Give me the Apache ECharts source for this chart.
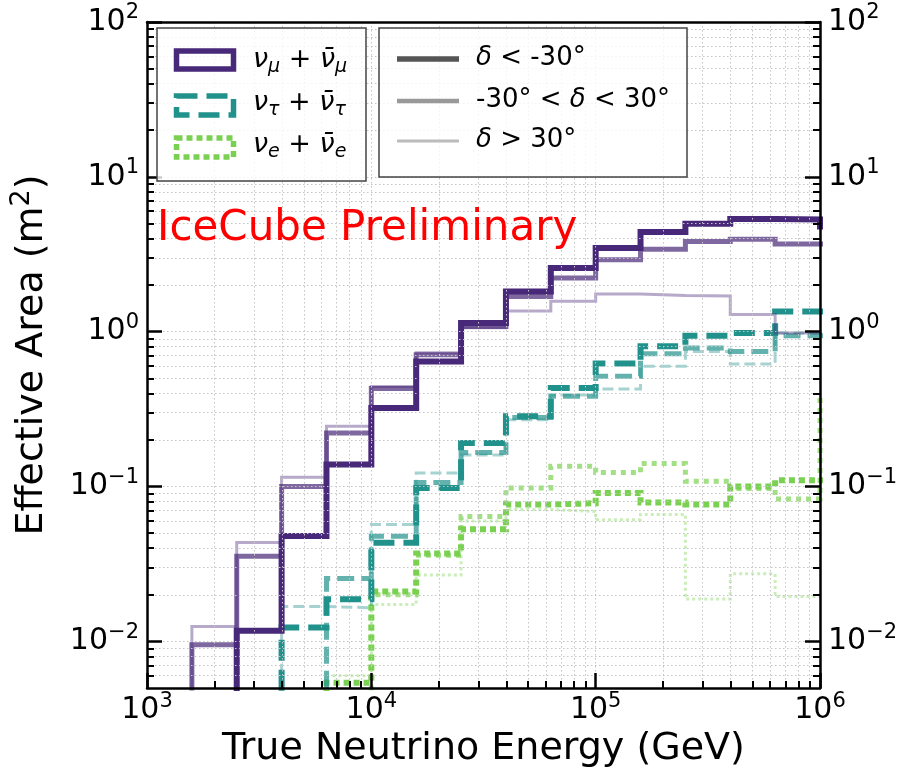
<!DOCTYPE html>
<html>
<head>
<meta charset="utf-8">
<title>Effective Area</title>
<script src="https://cdn.jsdelivr.net/npm/echarts@6/dist/echarts.min.js"></script>
<style>
  html, body { margin: 0; padding: 0; background: #ffffff; }
  #chart { width: 904px; height: 779px; }
</style>
</head>
<body>
<div id="chart"></div>
<script>
// Bin edges in true neutrino energy (GeV), five bins per decade
const energyEdges = [1000, 1585, 2512, 3981, 6310, 10000, 15849, 25119, 39811, 63096,
                     100000, 158489, 251189, 398107, 630957, 1000000, 1584893];

// Effective area (m^2) per energy bin; values under 0.005 sit below the plotted range
const numuSouth   = [0.001, 0.001, 0.0117, 0.048, 0.139, 0.322, 0.643, 1.14, 1.82, 2.58, 3.47, 4.40, 4.97, 5.35, 5.30, 4.78];
const numuHorizon = [0.001, 0.0095, 0.0355, 0.100, 0.222, 0.430, 0.710, 1.08, 1.69, 2.22, 2.91, 3.41, 3.83, 3.96, 3.68, 3.68];
const numuNorth   = [0.001, 0.0125, 0.0435, 0.115, 0.245, 0.443, 0.730, 1.06, 1.36, 1.57, 1.75, 1.71, 1.70, 1.29, 0.98, 0.98];

const nutauSouth   = [0.001, 0.001, 0.001, 0.0123, 0.0187, 0.0434, 0.098, 0.191, 0.284, 0.433, 0.622, 0.804, 0.943, 0.980, 1.35, 1.35];
const nutauHorizon = [0.001, 0.001, 0.001, 0.001, 0.0255, 0.0478, 0.106, 0.166, 0.279, 0.383, 0.515, 0.721, 0.785, 0.746, 0.943, 0.943];
const nutauNorth   = [0.001, 0.001, 0.001, 0.0168, 0.0165, 0.0569, 0.1225, 0.160, 0.270, 0.390, 0.427, 0.598, 0.746, 0.619, 0.980, 0.980];

const nueSouth   = [0.001, 0.001, 0.001, 0.001, 0.0054, 0.021, 0.037, 0.053, 0.0766, 0.078, 0.091, 0.079, 0.0766, 0.100, 0.110, 0.110];
const nueHorizon = [0.001, 0.001, 0.001, 0.001, 0.001, 0.020, 0.036, 0.064, 0.098, 0.135, 0.123, 0.141, 0.108, 0.097, 0.083, 0.380];
const nueNorth   = [0.001, 0.001, 0.001, 0.001, 0.006, 0.0173, 0.0268, 0.060, 0.071, 0.069, 0.061, 0.066, 0.0188, 0.0273, 0.0195, 0.0195];

// Tick positions
const xMajorTicks = [1e3, 1e4, 1e5, 1e6];
const xMinorTicks = [2e3, 3e3, 4e3, 5e3, 6e3, 7e3, 8e3, 9e3,
                     2e4, 3e4, 4e4, 5e4, 6e4, 7e4, 8e4, 9e4,
                     2e5, 3e5, 4e5, 5e5, 6e5, 7e5, 8e5, 9e5];
const yMajorTicks = [0.01, 0.1, 1, 10, 100];
const yMinorTicks = [0.006, 0.007, 0.008, 0.009,
                     0.02, 0.03, 0.04, 0.05, 0.06, 0.07, 0.08, 0.09,
                     0.2, 0.3, 0.4, 0.5, 0.6, 0.7, 0.8, 0.9,
                     2, 3, 4, 5, 6, 7, 8, 9,
                     20, 30, 40, 50, 60, 70, 80, 90];

const FONT = 'DejaVu Sans';
const PURPLE = [72, 40, 120];
const TEAL = [33, 145, 140];
const GREEN = [122, 209, 81];

// Line widths for the three declination bands
const W_SOUTH = 6, W_HORIZON = 5, W_NORTH = 3;

function rgba(c, a) { return 'rgba(' + c[0] + ',' + c[1] + ',' + c[2] + ',' + a + ')'; }

function powLabel(v) {
  const e = Math.round(Math.log10(v));
  return '{b|10}{s|' + (e < 0 ? '\u2212' + (-e) : e) + '}';
}
const powRich = {
  b: { fontSize: 30, fontFamily: FONT, color: '#000', verticalAlign: 'middle' },
  s: { fontSize: 21, fontFamily: FONT, color: '#000', verticalAlign: 'middle', padding: [0, 0, 18, 0] }
};

const gridLine = { color: '#c4c4c4', width: 1, type: [1.5, 2.5] };

function stepData(vals) {
  return energyEdges.map(function (e, i) { return [e, vals[Math.min(i, vals.length - 1)]]; });
}

function histSeries(name, vals, color, alpha, width, dash) {
  return {
    name: name,
    type: 'line',
    step: 'end',
    data: stepData(vals),
    xAxisIndex: 0,
    yAxisIndex: 0,
    symbol: 'none',
    showSymbol: false,
    clip: true,
    silent: true,
    lineStyle: { color: rgba(color, alpha), width: width, type: dash, cap: 'butt', join: 'miter' },
    z: 2
  };
}

const series = [
  histSeries('nue north', nueNorth, GREEN, 0.4, W_NORTH, [3, 3]),
  histSeries('nue horizon', nueHorizon, GREEN, 0.7, W_HORIZON, [5, 5]),
  histSeries('nue south', nueSouth, GREEN, 1, W_SOUTH, [6, 4]),
  histSeries('nutau north', nutauNorth, TEAL, 0.4, W_NORTH, [11, 5]),
  histSeries('nutau horizon', nutauHorizon, TEAL, 0.7, W_HORIZON, [17, 7]),
  histSeries('nutau south', nutauSouth, TEAL, 1, W_SOUTH, [21, 9]),
  histSeries('numu north', numuNorth, PURPLE, 0.4, W_NORTH, 'solid'),
  histSeries('numu horizon', numuHorizon, PURPLE, 0.7, W_HORIZON, 'solid'),
  histSeries('numu south', numuSouth, PURPLE, 1, W_SOUTH, 'solid')
];

const frameLine = { show: true, onZero: false, lineStyle: { color: '#000', width: 2.5 } };

const xAxes = [
  {
    type: 'log', min: 1e3, max: 1e6, position: 'bottom', z: 3,
    axisLine: frameLine,
    axisTick: { show: true, inside: true, length: 15, customValues: xMajorTicks, lineStyle: { color: '#000', width: 2.5 } },
    axisLabel: { show: true, customValues: xMajorTicks, formatter: powLabel, rich: powRich, margin: 3 },
    splitLine: { show: true, lineStyle: gridLine },
    name: 'True Neutrino Energy (GeV)', nameLocation: 'middle', nameGap: 35,
    nameTextStyle: { fontSize: 38, fontFamily: FONT, color: '#000' }
  },
  {
    type: 'log', min: 1e3, max: 1e6, position: 'bottom', z: 3,
    axisLine: { show: false },
    axisTick: { show: true, inside: true, length: 7, customValues: xMinorTicks, lineStyle: { color: '#000', width: 2 } },
    axisLabel: { show: false },
    splitLine: { show: true, lineStyle: gridLine }
  },
  {
    type: 'log', min: 1e3, max: 1e6, position: 'top', z: 3,
    axisLine: frameLine,
    axisTick: { show: false }, axisLabel: { show: false }, splitLine: { show: false }
  }
];

const yAxes = [
  {
    type: 'log', min: 0.005, max: 100, position: 'left', z: 3,
    axisLine: frameLine,
    axisTick: { show: true, inside: true, length: 15, customValues: yMajorTicks, lineStyle: { color: '#000', width: 2.5 } },
    axisLabel: { show: true, customValues: yMajorTicks, formatter: powLabel, rich: powRich, margin: 8 },
    splitLine: { show: true, lineStyle: gridLine },
    name: 'Effective Area (m{s|2})', nameLocation: 'middle', nameGap: 90,
    nameTextStyle: {
      fontSize: 38, fontFamily: FONT, color: '#000',
      rich: { s: { fontSize: 27, fontFamily: FONT, color: '#000', verticalAlign: 'middle', padding: [0, 0, 22, 0] } }
    }
  },
  {
    type: 'log', min: 0.005, max: 100, position: 'left', z: 3,
    axisLine: { show: false },
    axisTick: { show: true, inside: true, length: 7, customValues: yMinorTicks, lineStyle: { color: '#000', width: 2 } },
    axisLabel: { show: false },
    splitLine: { show: true, lineStyle: gridLine }
  },
  {
    type: 'log', min: 0.005, max: 100, position: 'right', z: 3,
    axisLine: frameLine,
    axisTick: { show: true, inside: true, length: 15, customValues: yMajorTicks, lineStyle: { color: '#000', width: 2.5 } },
    axisLabel: { show: true, customValues: yMajorTicks, formatter: powLabel, rich: powRich, margin: 8 },
    splitLine: { show: false }
  },
  {
    type: 'log', min: 0.005, max: 100, position: 'right', z: 3,
    axisLine: { show: false },
    axisTick: { show: true, inside: true, length: 7, customValues: yMinorTicks, lineStyle: { color: '#000', width: 2 } },
    axisLabel: { show: false },
    splitLine: { show: false }
  }
];

// Legend boxes, patches and labels
function flavourLabel(sub) {
  return '{i|\u03bd}{u|' + sub + '}{n| + }{i|\u03bd\u0304}{u|' + sub + '}';
}
const flavourRich = {
  i: { fontSize: 27, fontFamily: FONT, fontStyle: 'italic', verticalAlign: 'middle' },
  n: { fontSize: 27, fontFamily: FONT, verticalAlign: 'middle' },
  u: { fontSize: 19, fontFamily: FONT, fontStyle: 'italic', verticalAlign: 'middle', padding: [14, 0, 0, 0] }
};
const bandRich = {
  i: { fontSize: 26, fontFamily: FONT, fontStyle: 'italic', verticalAlign: 'middle' },
  n: { fontSize: 26, fontFamily: FONT, verticalAlign: 'middle' }
};

function legendText(x, y, text, rich) {
  return { type: 'text', z: 101, style: { x: x, y: y, text: text, rich: rich, verticalAlign: 'middle', fill: '#000', fontSize: 27, fontFamily: FONT } };
}

const graphics = [
  { type: 'rect', z: 100, shape: { x: 157, y: 28, width: 209, height: 153 },
    style: { fill: 'rgba(255,255,255,0.8)', stroke: '#444', lineWidth: 1.5 } },
  { type: 'rect', z: 100, shape: { x: 379, y: 28, width: 308, height: 149 },
    style: { fill: 'rgba(255,255,255,0.8)', stroke: '#444', lineWidth: 1.5 } },

  { type: 'rect', z: 101, shape: { x: 176.5, y: 51, width: 57, height: 18 },
    style: { fill: 'none', stroke: rgba(PURPLE, 1), lineWidth: 5.5 } },
  { type: 'rect', z: 101, shape: { x: 176.5, y: 96, width: 57, height: 19 },
    style: { fill: 'none', stroke: rgba(TEAL, 1), lineWidth: 5.5, lineDash: [21, 9] } },
  { type: 'rect', z: 101, shape: { x: 176.5, y: 138, width: 57, height: 19 },
    style: { fill: 'none', stroke: rgba(GREEN, 1), lineWidth: 5.5, lineDash: [6, 4] } },

  legendText(253, 60, flavourLabel('\u03bc'), flavourRich),
  legendText(253, 103, flavourLabel('\u03c4'), flavourRich),
  legendText(253, 145, flavourLabel('e'), flavourRich),

  { type: 'line', z: 101, shape: { x1: 397, y1: 59, x2: 459, y2: 59 }, style: { stroke: '#555555', lineWidth: 5.5 } },
  { type: 'line', z: 101, shape: { x1: 397, y1: 101, x2: 459, y2: 101 }, style: { stroke: '#999999', lineWidth: 4.5 } },
  { type: 'line', z: 101, shape: { x1: 397, y1: 141, x2: 459, y2: 141 }, style: { stroke: '#bbbbbb', lineWidth: 3 } },

  legendText(476, 58, '{i|\u03b4}{n| < -30\u00b0}', bandRich),
  legendText(476, 100, '{n|-30\u00b0 < }{i|\u03b4}{n| < 30\u00b0}', bandRich),
  legendText(476, 140, '{i|\u03b4}{n| > 30\u00b0}', bandRich),

  { type: 'text', z: 101, style: { x: 157, y: 208, text: 'IceCube Preliminary', fill: '#ff0000', fontSize: 42, fontFamily: FONT, verticalAlign: 'top' } }
];

const chart = echarts.init(document.getElementById('chart'), null, { renderer: 'canvas' });
chart.setOption({
  animation: false,
  backgroundColor: '#ffffff',
  grid: { left: 140, right: 84, top: 22, bottom: 91, containLabel: false, show: false },
  xAxis: xAxes,
  yAxis: yAxes,
  series: series,
  graphic: graphics
});
</script>
</body>
</html>
